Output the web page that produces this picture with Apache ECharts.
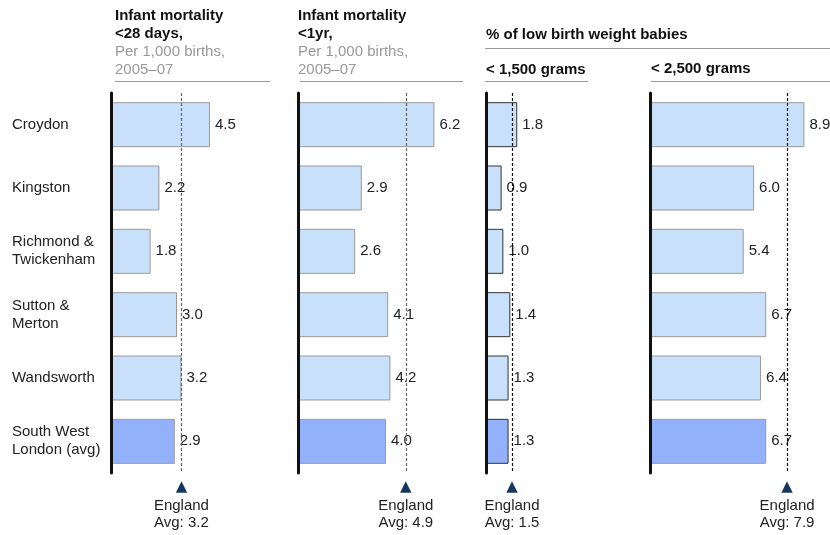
<!DOCTYPE html>
<html>
<head>
<meta charset="utf-8">
<script src="https://cdn.jsdelivr.net/npm/echarts@6/dist/echarts.min.js"></script>
<style>
  html, body { margin: 0; padding: 0; background: #fff; }
  #chart { width: 830px; height: 535px; }
</style>
</head>
<body>
<div id="chart"></div>
<script>
// Boroughs, top to bottom; the last row is the sector average
var categories = ['Croydon', 'Kingston', 'Richmond &\nTwickenham', 'Sutton &\nMerton', 'Wandsworth', 'South West\nLondon (avg)'];
var avgCategory = 'South West\nLondon (avg)';

// Infant mortality per 1,000 births, 2005–07
var mortality28d = [4.5, 2.2, 1.8, 3.0, 3.2, 2.9];
var mortality1yr = [6.2, 2.9, 2.6, 4.1, 4.2, 4.0];
// % of low birth weight babies
var lowWeight1500 = [1.8, 0.9, 1.0, 1.4, 1.3, 1.3];
var lowWeight2500 = [8.9, 6.0, 5.4, 6.7, 6.4, 6.7];
// England averages for each panel
var englandAvg = [3.2, 4.9, 1.5, 7.9];

var FONT = '"Liberation Sans", Arial, Helvetica, sans-serif';
var FS = 15;

// Panel layout: left edge, axis max and pixel width (scale per unit)
var panels = [
  { values: mortality28d,  avg: englandAvg[0], left: 111, max: 5, unit: 22,    border: '#9a9a9a', dash: '#666' },
  { values: mortality1yr,  avg: englandAvg[1], left: 298, max: 7, unit: 22,    border: '#9a9a9a', dash: '#666' },
  { values: lowWeight1500, avg: englandAvg[2], left: 486, max: 2, unit: 17.35, border: '#333',    dash: '#111' },
  { values: lowWeight2500, avg: englandAvg[3], left: 650, max: 9, unit: 17.35, border: '#9a9a9a', dash: '#111' }
];

var grids = [], xAxes = [], yAxes = [], series = [];
panels.forEach(function (p, i) {
  grids.push({ left: p.left, top: 93, width: p.max * p.unit, height: 380, containLabel: false });
  xAxes.push({
    gridIndex: i, type: 'value', min: 0, max: p.max,
    axisLine: { show: false }, axisTick: { show: false }, splitLine: { show: false },
    axisLabel: {
      customValues: [p.avg],
      margin: 4,
      formatter: function (v) {
        return '{tri|▲}\n{t|England}\n{t|Avg: ' + v.toFixed(1) + '}';
      },
      rich: {
        tri: { fontFamily: '"DejaVu Sans", sans-serif', fontSize: 15, color: '#17365d', lineHeight: 20 },
        t: { fontFamily: FONT, fontSize: FS, color: '#222', lineHeight: 17 }
      }
    }
  });
  yAxes.push({
    gridIndex: i, type: 'category', data: categories, inverse: true, z: 5,
    axisLine: { show: true, lineStyle: { color: '#111', width: 3 } },
    axisTick: { show: false },
    axisLabel: i === 0 ? {
      show: true, align: 'left', margin: 99,
      fontFamily: FONT, fontSize: FS, color: '#222', lineHeight: 18
    } : { show: false }
  });
  series.push({
    type: 'bar', xAxisIndex: i, yAxisIndex: i, barWidth: 45,
    data: p.values.map(function (v, k) {
      return {
        value: v,
        itemStyle: { color: categories[k] === avgCategory ? '#93b1fa' : '#c8e0fa' }
      };
    }),
    itemStyle: { borderColor: p.border, borderWidth: 1 },
    label: {
      show: true, position: 'right', distance: 5,
      fontFamily: FONT, fontSize: FS, color: '#222',
      formatter: function (d) { return d.value.toFixed(1); }
    },
    markLine: {
      silent: true, symbol: 'none',
      label: { show: false },
      lineStyle: { color: p.dash, width: 1.2, type: [3, 2] },
      data: [{ xAxis: p.avg }]
    },
    animation: false
  });
});

// Panel headings
var headBold = { fontFamily: FONT, fontSize: FS, fontWeight: 'bold', fill: '#111' };
var headGrey = { fontFamily: FONT, fontSize: FS, fill: '#999' };
function txt(x, y, text, style) {
  return { type: 'text', x: x, y: y, style: Object.assign({ text: text, textVerticalAlign: 'middle' }, style) };
}
function rule(x1, x2, y) {
  return { type: 'line', shape: { x1: x1, y1: y, x2: x2, y2: y }, style: { stroke: '#999', lineWidth: 1 } };
}
var graphics = [
  txt(115, 16, 'Infant mortality', headBold),
  txt(115, 34, '<28 days,', headBold),
  txt(115, 52, 'Per 1,000 births,', headGrey),
  txt(115, 70, '2005–07', headGrey),
  rule(115, 270, 81.5),
  txt(298, 16, 'Infant mortality', headBold),
  txt(298, 34, '<1yr,', headBold),
  txt(298, 52, 'Per 1,000 births,', headGrey),
  txt(298, 70, '2005–07', headGrey),
  rule(300, 463, 81.5),
  txt(486, 35, '% of low birth weight babies', headBold),
  rule(485, 830, 48.5),
  txt(486, 70, '< 1,500 grams', headBold),
  rule(485, 588, 81.5),
  txt(651, 69, '< 2,500 grams', headBold),
  rule(651, 830, 81.5)
];

var chart = echarts.init(document.getElementById('chart'), null, { renderer: 'canvas' });
chart.setOption({
  animation: false,
  backgroundColor: '#fff',
  grid: grids,
  xAxis: xAxes,
  yAxis: yAxes,
  series: series,
  graphic: graphics
});
</script>
</body>
</html>
